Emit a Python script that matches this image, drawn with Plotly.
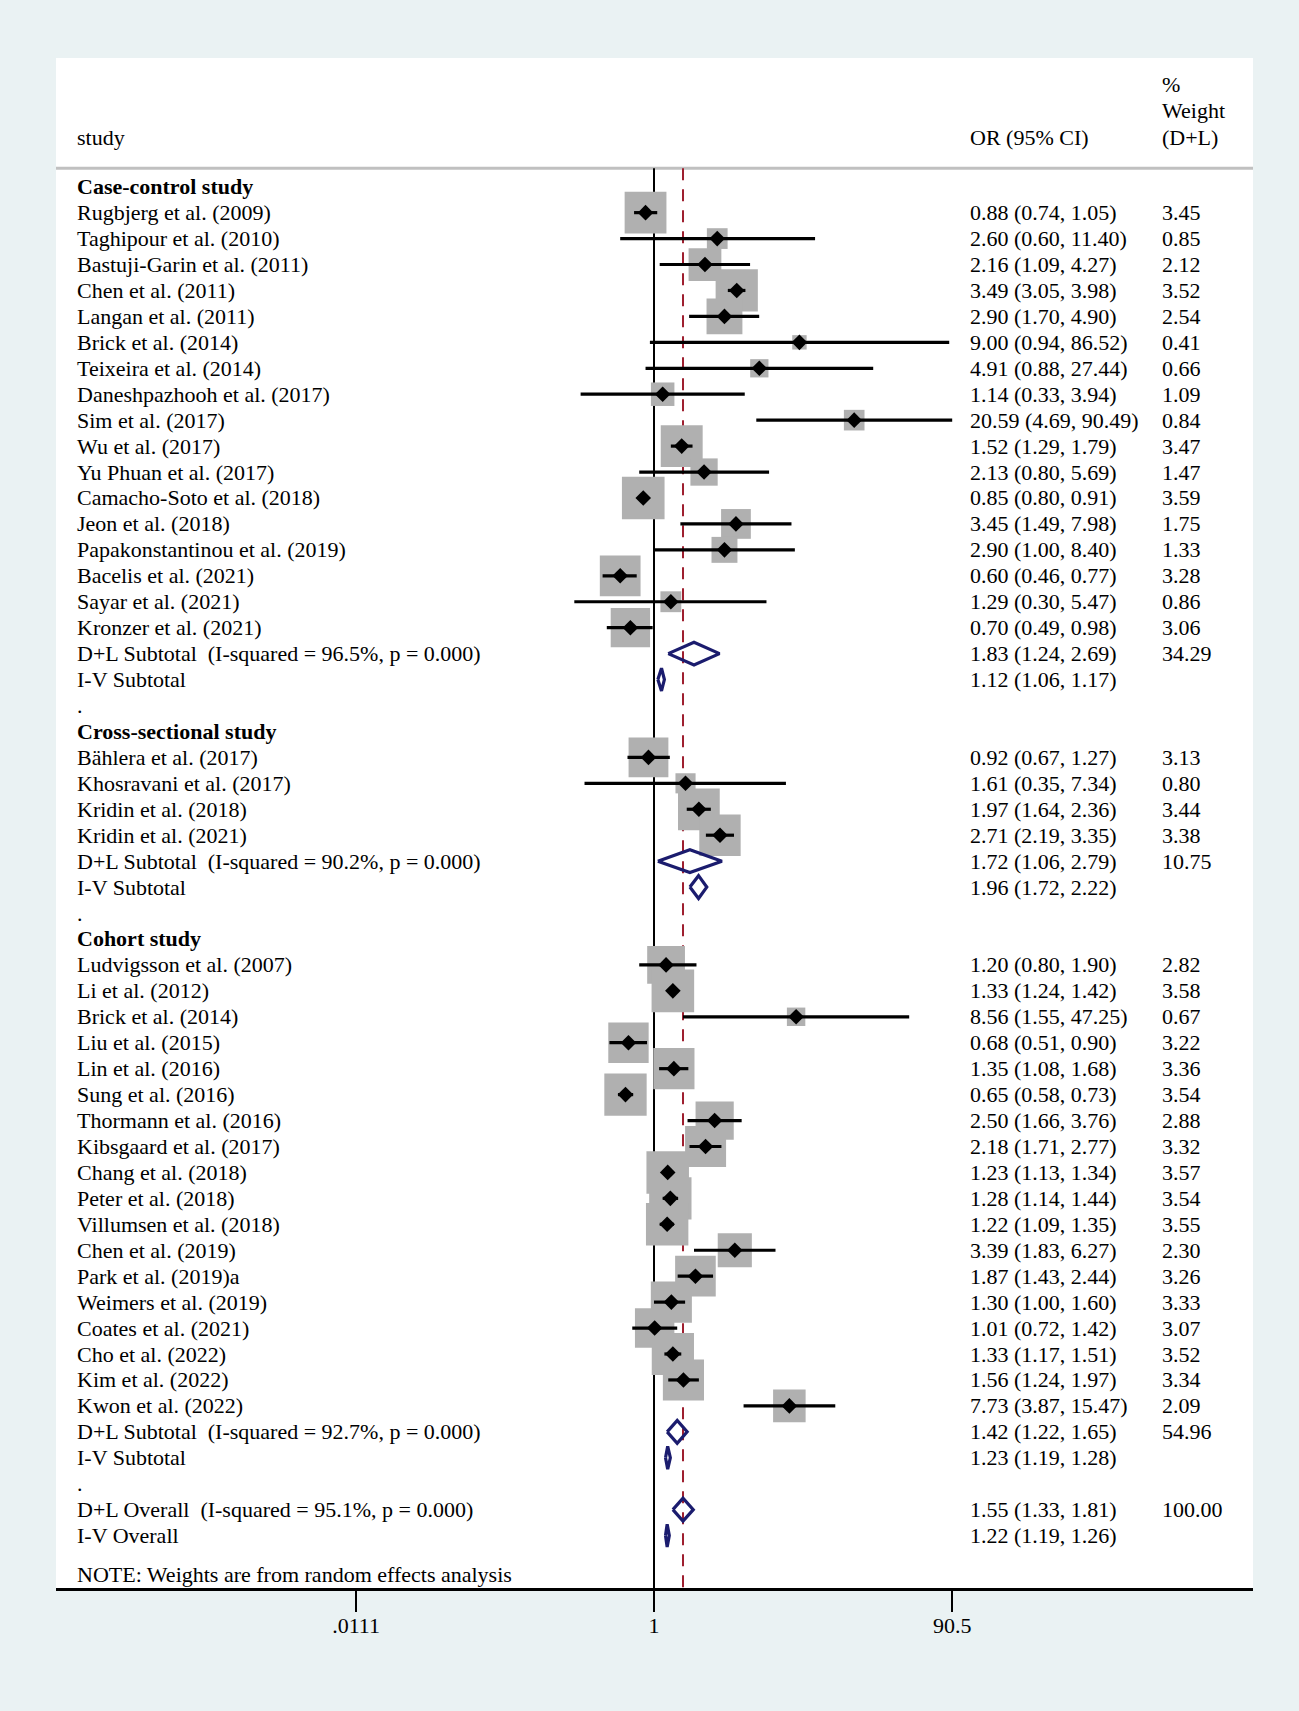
import plotly.graph_objects as go
import math

# ---------------- data ----------------
cc_study = ["Rugbjerg et al. (2009)", "Taghipour et al. (2010)", "Bastuji-Garin et al. (2011)",
            "Chen et al. (2011)", "Langan et al. (2011)", "Brick et al. (2014)", "Teixeira et al. (2014)",
            "Daneshpazhooh et al. (2017)", "Sim et al. (2017)", "Wu et al. (2017)", "Yu Phuan et al. (2017)",
            "Camacho-Soto et al. (2018)", "Jeon et al. (2018)", "Papakonstantinou et al. (2019)",
            "Bacelis et al. (2021)", "Sayar et al. (2021)", "Kronzer et al. (2021)"]
cc_or = [0.88, 2.60, 2.16, 3.49, 2.90, 9.00, 4.91, 1.14, 20.59, 1.52, 2.13, 0.85, 3.45, 2.90, 0.60, 1.29, 0.70]
cc_lo = [0.74, 0.60, 1.09, 3.05, 1.70, 0.94, 0.88, 0.33, 4.69, 1.29, 0.80, 0.80, 1.49, 1.00, 0.46, 0.30, 0.49]
cc_hi = [1.05, 11.40, 4.27, 3.98, 4.90, 86.52, 27.44, 3.94, 90.49, 1.79, 5.69, 0.91, 7.98, 8.40, 0.77, 5.47, 0.98]
cc_wt = [3.45, 0.85, 2.12, 3.52, 2.54, 0.41, 0.66, 1.09, 0.84, 3.47, 1.47, 3.59, 1.75, 1.33, 3.28, 0.86, 3.06]
cc_dl = (1.83, 1.24, 2.69, 34.29, "96.5%")
cc_iv = (1.12, 1.06, 1.17)

cs_study = ["Bählera et al. (2017)", "Khosravani et al. (2017)", "Kridin et al. (2018)", "Kridin et al. (2021)"]
cs_or = [0.92, 1.61, 1.97, 2.71]
cs_lo = [0.67, 0.35, 1.64, 2.19]
cs_hi = [1.27, 7.34, 2.36, 3.35]
cs_wt = [3.13, 0.80, 3.44, 3.38]
cs_dl = (1.72, 1.06, 2.79, 10.75, "90.2%")
cs_iv = (1.96, 1.72, 2.22)

co_study = ["Ludvigsson et al. (2007)", "Li et al. (2012)", "Brick et al. (2014)", "Liu et al. (2015)",
            "Lin et al. (2016)", "Sung et al. (2016)", "Thormann et al. (2016)", "Kibsgaard et al. (2017)",
            "Chang et al. (2018)", "Peter et al. (2018)", "Villumsen et al. (2018)", "Chen et al. (2019)",
            "Park et al. (2019)a", "Weimers et al. (2019)", "Coates et al. (2021)", "Cho et al. (2022)",
            "Kim et al. (2022)", "Kwon et al. (2022)"]
co_or = [1.20, 1.33, 8.56, 0.68, 1.35, 0.65, 2.50, 2.18, 1.23, 1.28, 1.22, 3.39, 1.87, 1.30, 1.01, 1.33, 1.56, 7.73]
co_lo = [0.80, 1.24, 1.55, 0.51, 1.08, 0.58, 1.66, 1.71, 1.13, 1.14, 1.09, 1.83, 1.43, 1.00, 0.72, 1.17, 1.24, 3.87]
co_hi = [1.90, 1.42, 47.25, 0.90, 1.68, 0.73, 3.76, 2.77, 1.34, 1.44, 1.35, 6.27, 2.44, 1.60, 1.42, 1.51, 1.97, 15.47]
co_wt = [2.82, 3.58, 0.67, 3.22, 3.36, 3.54, 2.88, 3.32, 3.57, 3.54, 3.55, 2.30, 3.26, 3.33, 3.07, 3.52, 3.34, 2.09]
co_dl = (1.42, 1.22, 1.65, 54.96, "92.7%")
co_iv = (1.23, 1.19, 1.28)

overall_dl = (1.55, 1.33, 1.81, 100.00, "95.1%")
overall_iv = (1.22, 1.19, 1.26)

groups = [
    ("Case-control study", cc_study, cc_or, cc_lo, cc_hi, cc_wt, cc_dl, cc_iv),
    ("Cross-sectional study", cs_study, cs_or, cs_lo, cs_hi, cs_wt, cs_dl, cs_iv),
    ("Cohort study", co_study, co_or, co_lo, co_hi, co_wt, co_dl, co_iv),
]

tick_vals = [0.0111, 1, 90.5]
tick_text = [".0111", "1", "90.5"]

# ---------------- build rows ----------------
NB = "\u00a0"
rows = []
for gi, (gname, st, es, lo, hi, wt, dl, iv) in enumerate(groups):
    rows.append(dict(kind="head", label=gname))
    for i in range(len(st)):
        rows.append(dict(kind="study", label=st[i], es=es[i], lo=lo[i], hi=hi[i], wt=wt[i]))
    rows.append(dict(kind="dl", label="D+L Subtotal" + NB + NB + "(I-squared = " + dl[4] + ", p = 0.000)",
                     es=dl[0], lo=dl[1], hi=dl[2], wt=dl[3]))
    rows.append(dict(kind="iv", label="I-V Subtotal", es=iv[0], lo=iv[1], hi=iv[2], wt=None))
    rows.append(dict(kind="dot", label="."))
rows.append(dict(kind="dl", label="D+L Overall" + NB + NB + "(I-squared = " + overall_dl[4] + ", p = 0.000)",
                 es=overall_dl[0], lo=overall_dl[1], hi=overall_dl[2], wt=overall_dl[3]))
rows.append(dict(kind="iv", label="I-V Overall", es=overall_iv[0], lo=overall_iv[1], hi=overall_iv[2], wt=None))

# ---------------- layout geometry ----------------
W, H = 1299, 1711
ML, MR, MT, MB = 56, 46, 58, 123
ROW_PX = 25.94
ROW0_PX = 186.7
y_top = (MT - ROW0_PX) / ROW_PX
y_bot = (H - MB - ROW0_PX) / ROW_PX
PX_PER_LOG10 = 152.4
X1_PX = 654
plot_w = W - ML - MR
x_lo = (ML - X1_PX) / PX_PER_LOG10
x_hi = (W - MR - X1_PX) / PX_PER_LOG10

def px2paper(px):
    return (px - ML) / plot_w

FONT = "Liberation Serif, Times New Roman, serif"
FS = 22
NAVY = "#1B1C6E"
RED = "#9E1F2F"
GRAY = "#B0B0B0"
BG = "#EAF2F3"

fig = go.Figure()

# boxes (area proportional to weight)
bx, by, bs = [], [], []
for r_i, r in enumerate(rows):
    if r["kind"] == "study":
        bx.append(r["es"]); by.append(r_i); bs.append(22.5 * math.sqrt(r["wt"]))
fig.add_trace(go.Scatter(x=bx, y=by, mode="markers",
                         marker=dict(symbol="square", size=bs, color=GRAY, opacity=1, line=dict(width=0)),
                         hoverinfo="skip", showlegend=False))

# CI lines
cx, cy = [], []
for r_i, r in enumerate(rows):
    if r["kind"] == "study":
        cx += [r["lo"], r["hi"], None]; cy += [r_i, r_i, None]
fig.add_trace(go.Scatter(x=cx, y=cy, mode="lines", line=dict(color="black", width=3.2),
                         hoverinfo="skip", showlegend=False))

# point estimates
px_, py_ = [], []
for r_i, r in enumerate(rows):
    if r["kind"] == "study":
        px_.append(r["es"]); py_.append(r_i)
fig.add_trace(go.Scatter(x=px_, y=py_, mode="markers",
                         marker=dict(symbol="diamond", size=12, color="black", opacity=1),
                         hoverinfo="skip", showlegend=False))

# pooled diamonds
HH = 0.44
dx, dy = [], []
for r_i, r in enumerate(rows):
    if r["kind"] in ("dl", "iv"):
        dx += [r["lo"], r["es"], r["hi"], r["es"], r["lo"], None]
        dy += [r_i, r_i - HH, r_i, r_i + HH, r_i, None]
fig.add_trace(go.Scatter(x=dx, y=dy, mode="lines", line=dict(color=NAVY, width=3.2),
                         hoverinfo="skip", showlegend=False))

shapes = []
hdr_y = (168.3 - ROW0_PX) / ROW_PX
shapes.append(dict(type="line", xref="paper", yref="y", x0=0, x1=1, y0=hdr_y, y1=hdr_y,
                   line=dict(color="#C0C0C0", width=3), layer="below"))
shapes.append(dict(type="line", xref="x", yref="y", x0=1, x1=1, y0=hdr_y, y1=y_bot,
                   line=dict(color="black", width=2), layer="below"))
shapes.append(dict(type="line", xref="x", yref="y", x0=overall_dl[0], x1=overall_dl[0], y0=hdr_y, y1=y_bot,
                   line=dict(color=RED, width=2, dash="12px,9px"), layer="below"))

ann = []
TXT_SHIFT = -4
X_STUDY = px2paper(78.5 + TXT_SHIFT)
X_OR = px2paper(971.5 + TXT_SHIFT)
X_WT = px2paper(1163.5 + TXT_SHIFT)

def add_text(x, y, text, bold=False):
    ann.append(dict(xref="paper", yref="y", x=x, y=y, text=("<b>" + text + "</b>") if bold else text,
                    showarrow=False, xanchor="left", yanchor="middle",
                    font=dict(family=FONT, size=FS, color="black")))

hy = lambda px: (px - ROW0_PX) / ROW_PX
add_text(X_STUDY, hy(137), "study")
add_text(X_OR, hy(137), "OR (95% CI)")
add_text(X_WT, hy(84), "%")
add_text(X_WT, hy(110), "Weight")
add_text(X_WT, hy(137), "(D+L)")

for r_i, r in enumerate(rows):
    k = r["kind"]
    add_text(X_STUDY, r_i, r["label"], bold=(k == "head"))
    if k in ("study", "dl", "iv"):
        add_text(X_OR, r_i, "%.2f (%.2f, %.2f)" % (r["es"], r["lo"], r["hi"]))
    if k in ("study", "dl") and r["wt"] is not None:
        add_text(X_WT, r_i, "%.2f" % r["wt"])

add_text(X_STUDY, len(rows) + 0.5, "NOTE: Weights are from random effects analysis")

fig.update_layout(
    width=W, height=H, autosize=False,
    margin=dict(l=ML, r=MR, t=MT, b=MB, pad=0),
    paper_bgcolor=BG, plot_bgcolor="white",
    showlegend=False,
    shapes=shapes, annotations=ann,
    xaxis=dict(type="log", range=[x_lo, x_hi], tickvals=tick_vals, ticktext=tick_text,
               ticks="outside", ticklen=21, tickwidth=2, tickcolor="black",
               ticklabelstandoff=-5,
               showline=True, linewidth=3, linecolor="black", showgrid=False, zeroline=False,
               tickfont=dict(family=FONT, size=FS, color="black")),
    yaxis=dict(range=[y_bot, y_top], visible=False, showgrid=False, zeroline=False),
)

fig.write_html("out.html", config={"displayModeBar": False},
               post_script="document.body.style.margin='0';document.body.style.padding='0';"
                           "document.body.style.backgroundColor='" + BG + "';"
                           "document.documentElement.style.backgroundColor='" + BG + "';")
